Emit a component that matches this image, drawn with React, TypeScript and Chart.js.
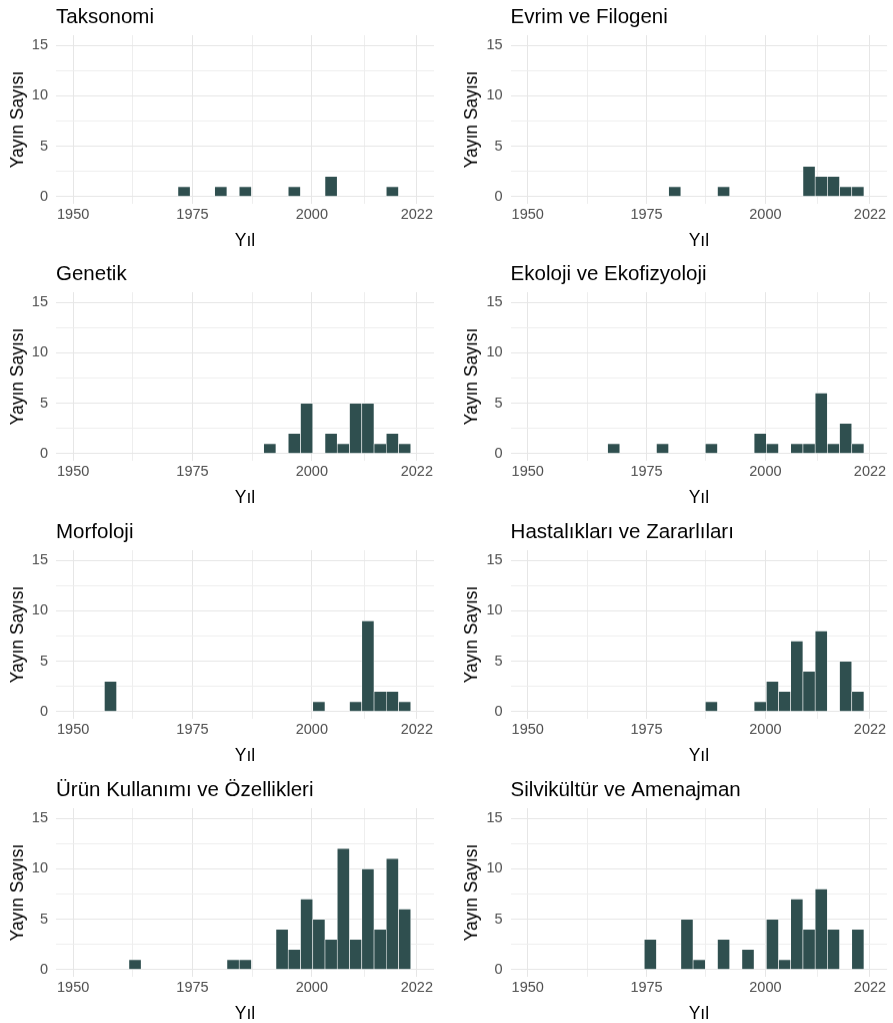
import React, { useEffect, useRef } from 'react';
import { Chart, registerables } from 'chart.js';

Chart.register(...registerables);

// Histogram bin centres (years) shared by all panels
const BIN_CENTERS = [
  1952.68, 1955.25, 1957.82, 1960.39, 1962.96, 1965.52, 1968.09, 1970.66,
  1973.23, 1975.8, 1978.36, 1980.93, 1983.5, 1986.07, 1988.64, 1991.2,
  1993.77, 1996.34, 1998.91, 2001.48, 2004.04, 2006.61, 2009.18, 2011.75,
  2014.32, 2016.88, 2019.45, 2022.02,
];

const X_TICKS = [1950, 1962.5, 1975, 1987.5, 2000, 2011, 2022];
const X_LABELS = [1950, 1975, 2000, 2022];
const Y_TICKS = [0, 2.5, 5, 7.5, 10, 12.5, 15];
const Y_LABELS = [0, 5, 10, 15];

const TITLES = [
  'Taksonomi',
  'Evrim ve Filogeni',
  'Genetik',
  'Ekoloji ve Ekofizyoloji',
  'Morfoloji',
  'Hastalıkları ve Zararlıları',
  'Ürün Kullanımı ve Özellikleri',
  'Silvikültür ve Amenajman',
];

const TAKSONOMI = [0,0,0,0,0,0,0,0,1,0,0,1,0,1,0,0,0,1,0,0,2,0,0,0,0,1,0,0];
const EVRIM = [0,0,0,0,0,0,0,0,0,0,0,1,0,0,0,1,0,0,0,0,0,0,3,2,2,1,1,0];
const GENETIK = [0,0,0,0,0,0,0,0,0,0,0,0,0,0,0,1,0,2,5,0,2,1,5,5,1,2,1,0];
const EKOLOJI = [0,0,0,0,0,0,1,0,0,0,1,0,0,0,1,0,0,0,2,1,0,1,1,6,1,3,1,0];
const MORFOLOJI = [0,0,3,0,0,0,0,0,0,0,0,0,0,0,0,0,0,0,0,1,0,0,1,9,2,2,1,0];
const HASTALIK = [0,0,0,0,0,0,0,0,0,0,0,0,0,0,1,0,0,0,1,3,2,7,4,8,0,5,2,0];
const URUN = [0,0,0,0,1,0,0,0,0,0,0,0,1,1,0,0,4,2,7,5,3,12,3,10,4,11,6,0];
const SILVIKULTUR = [0,0,0,0,0,0,0,0,0,3,0,0,5,1,0,3,0,2,0,5,1,7,4,8,4,0,4,0];

const SERIES = [TAKSONOMI, EVRIM, GENETIK, EKOLOJI, MORFOLOJI, HASTALIK, URUN, SILVIKULTUR];

const FONT = '"Liberation Sans", Arial, Helvetica, sans-serif';
const BAR_COLOR = '#2F4F4F';
const MAJOR_GRID = '#e6e6e6';
const MINOR_GRID = '#eeeeee';

const ROW_TOPS = [0, 257, 515, 773];
const COL_LEFTS = [0, 446];
const COL_WIDTHS = [446, 447];
const COL_PAD_L = [0, 7.6];
const COL_PAD_R = [12, 5.9];
const COL_YAXIS_W = [56, 57];
const PANEL_H = 251.5;
const XAXIS_H = 48;

function Panel({ index }: { index: number }) {
  const ref = useRef<HTMLCanvasElement | null>(null);
  const col = index % 2;
  const row = Math.floor(index / 2);

  useEffect(() => {
    if (!ref.current) return;
    const counts = SERIES[index];
    const chart = new Chart(ref.current, {
      type: 'bar',
      data: {
        datasets: [
          {
            data: BIN_CENTERS.map((x, i) => ({ x, y: counts[i] })),
            backgroundColor: BAR_COLOR,
            borderColor: '#ffffff',
            borderWidth: 0.6,
            borderSkipped: false,
            barPercentage: 1,
            categoryPercentage: 1,
          } as any,
        ],
      },
      options: {
        responsive: false,
        animation: false,
        events: [],
        layout: { padding: { left: COL_PAD_L[col], right: COL_PAD_R[col], top: 0, bottom: 0 } },
        plugins: {
          legend: { display: false },
          tooltip: { enabled: false },
          title: {
            display: true,
            text: TITLES[index],
            align: 'start',
            fullSize: false,
            color: '#000000',
            font: { family: FONT, size: 20.5, weight: 'normal' },
            padding: { top: 5.2, bottom: 5.2 },
          },
        },
        scales: {
          x: {
            type: 'linear',
            min: 1946.4,
            max: 2025.6,
            offset: false,
            border: { display: false },
            grid: {
              offset: false,
              drawTicks: false,
              color: (c: any) => (X_LABELS.includes(c.tick?.value) ? MAJOR_GRID : MINOR_GRID),
              lineWidth: 1,
            },
            afterBuildTicks: (s: any) => {
              s.ticks = X_TICKS.map((v) => ({ value: v }));
            },
            afterFit: (s: any) => {
              s.height = XAXIS_H;
            },
            ticks: {
              autoSkip: false,
              maxRotation: 0,
              padding: 2.5,
              color: '#4d4d4d',
              font: { family: FONT, size: 14.5 },
              callback: (v: any) => (X_LABELS.includes(Number(v)) ? String(v) : ''),
            },
            title: {
              display: true,
              text: 'Yıl',
              color: '#000000',
              font: { family: FONT, size: 17.5 },
              padding: { top: 0, bottom: 0 },
            },
          },
          y: {
            type: 'linear',
            position: 'left',
            min: -0.7,
            max: 16,
            border: { display: false },
            grid: {
              drawTicks: false,
              color: (c: any) => (Y_LABELS.includes(c.tick?.value) ? MAJOR_GRID : MINOR_GRID),
              lineWidth: 1,
            },
            afterBuildTicks: (s: any) => {
              s.ticks = Y_TICKS.map((v) => ({ value: v }));
            },
            afterFit: (s: any) => {
              s.width = COL_YAXIS_W[col];
            },
            ticks: {
              autoSkip: false,
              padding: 8,
              color: '#4d4d4d',
              font: { family: FONT, size: 14.5 },
              callback: (v: any) => (Y_LABELS.includes(Number(v)) ? String(v) : ''),
            },
            title: {
              display: true,
              text: 'Yayın Sayısı',
              color: '#000000',
              font: { family: FONT, size: 17.5 },
              padding: { top: 8, bottom: 0 },
            },
          },
        },
      } as any,
    });
    return () => chart.destroy();
  }, [index, col]);

  return (
    <canvas
      ref={ref}
      width={COL_WIDTHS[col]}
      height={PANEL_H}
      style={{
        position: 'absolute',
        left: COL_LEFTS[col],
        top: ROW_TOPS[row],
        width: COL_WIDTHS[col],
        height: PANEL_H,
      }}
    />
  );
}

export default function App() {
  return (
    <div
      style={{
        position: 'absolute',
        left: 0,
        top: 0,
        width: 893,
        height: 1023,
        background: '#ffffff',
        overflow: 'hidden',
      }}
    >
      {TITLES.map((_, i) => (
        <Panel key={i} index={i} />
      ))}
    </div>
  );
}
